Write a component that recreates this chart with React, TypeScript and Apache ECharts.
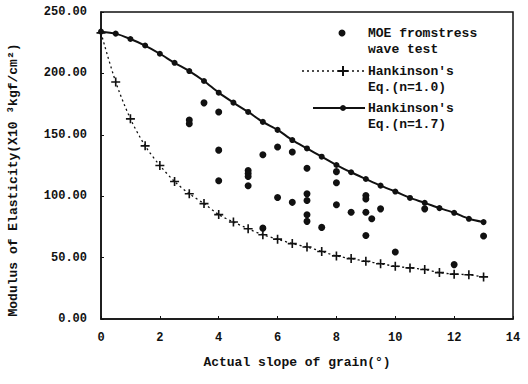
import React, { useEffect, useRef } from "react";
import * as echarts from "echarts";

const FONT = "'Liberation Mono', 'DejaVu Sans Mono', monospace";
const INK = "#111111";

// slope of grain (degrees) for the Hankinson curves
const hankX = [0, 0.5, 1, 1.5, 2, 2.5, 3, 3.5, 4, 4.5, 5, 5.5, 6, 6.5, 7, 7.5, 8, 8.5, 9, 9.5, 10, 10.5, 11, 11.5, 12, 12.5, 13];
// Hankinson's Eq. (n=1.0)
const hankN10 = [233, 193, 163, 141, 125, 112, 102, 94, 85, 79, 73.5, 68.6, 65, 61.4, 58.6, 55, 51.4, 49.2, 47, 45, 43, 41.6, 40.3, 37.8, 36.5, 36, 34.3];
// Hankinson's Eq. (n=1.7)
const hankN17 = [234, 232.4, 228, 222.7, 216, 208.6, 201.9, 193.8, 184.3, 176.2, 168.6, 160.5, 154, 145.7, 138.9, 132.2, 125.4, 119.5, 114, 108.6, 103.8, 98.6, 94.6, 90.3, 86.5, 81.6, 78.9];

// MOE from stress wave test
const moeX = [3, 3, 3.5, 4, 4, 4, 5, 5, 5, 5, 5.5, 5.5, 6, 6, 6.5, 6.5, 7, 7, 7, 7, 7, 7.5, 8, 8, 8, 8.5, 9, 9, 9, 9.2, 9.5, 9, 10, 11, 12, 13];
const moeY = [162, 159, 176, 168.5, 137.5, 112.6, 121, 118.5, 116, 108.5, 133.8, 74, 140, 99, 136, 95, 122.7, 101.9, 96.5, 84.9, 79.5, 74.6, 120, 111, 93, 87, 100.5, 97.8, 87, 81.6, 89.7, 68, 54.6, 89.7, 44.3, 67.6];

// axis ticks
const xMin = 0, xMax = 14, xStep = 2;
const yMin = 0, yMax = 250, yStep = 50;

const xTitle = "Actual slope of grain(°)";
const yTitle = "Modulus of Elasticity(X10 ³kgf/cm²)";

const legendLabels = [
  ["MOE fromstress", "wave test"],
  ["Hankinson's", "Eq.(n=1.0)"],
  ["Hankinson's", "Eq.(n=1.7)"],
];

const PLUS = "path://M-0.9,-5H0.9V-0.9H5V0.9H0.9V5H-0.9V0.9H-5V-0.9H-0.9Z";

export default function App() {
  const ref = useRef<HTMLDivElement>(null);
  useEffect(() => {
    const chart = echarts.init(ref.current!, null, { renderer: "svg" });
    const txt = { fontFamily: FONT, fontWeight: "bold", fontSize: 13, color: INK };
    const legendText = (x: number, y: number, s: string) => ({
      type: "text", x, y,
      style: { text: s, fill: INK, font: `bold 13px ${FONT}`, textVerticalAlign: "middle" },
    });
    const graphic: any[] = [];
    // y axis title
    graphic.push({
      type: "text", x: 13, y: 180, rotation: Math.PI / 2,
      style: { text: yTitle, fill: INK, font: `bold 13px ${FONT}`, textAlign: "center", textVerticalAlign: "middle" },
    });
    // entry 1: scatter
    graphic.push({ type: "circle", shape: { cx: 342, cy: 33, r: 3.5 }, style: { fill: INK } });
    graphic.push(legendText(368, 33, legendLabels[0][0]));
    graphic.push(legendText(368, 49, legendLabels[0][1]));
    // entry 2: dotted + plus
    graphic.push({ type: "line", shape: { x1: 302, y1: 71, x2: 365, y2: 71 }, style: { stroke: INK, lineWidth: 1.3, lineDash: [2, 3] } });
    graphic.push({ type: "line", shape: { x1: 338, y1: 71, x2: 348, y2: 71 }, style: { stroke: INK, lineWidth: 2 } });
    graphic.push({ type: "line", shape: { x1: 343, y1: 66, x2: 343, y2: 76 }, style: { stroke: INK, lineWidth: 2 } });
    graphic.push(legendText(368, 71, legendLabels[1][0]));
    graphic.push(legendText(368, 87, legendLabels[1][1]));
    // entry 3: solid + dot
    graphic.push({ type: "line", shape: { x1: 313, y1: 108, x2: 365, y2: 108 }, style: { stroke: INK, lineWidth: 2 } });
    graphic.push({ type: "circle", shape: { cx: 343, cy: 108, r: 3 }, style: { fill: INK } });
    graphic.push(legendText(368, 108, legendLabels[2][0]));
    graphic.push(legendText(368, 124, legendLabels[2][1]));

    chart.setOption({
      animation: false,
      backgroundColor: "#fff",
      grid: { left: 101, right: 15, top: 12, bottom: 65, show: true, borderColor: INK, borderWidth: 1.5, backgroundColor: "transparent" },
      xAxis: {
        type: "value", min: xMin, max: xMax, interval: xStep,
        axisLine: { show: true, lineStyle: { color: INK, width: 1.5 } },
        axisTick: { show: true, inside: true, length: 3, lineStyle: { color: INK } },
        splitLine: { show: false },
        axisLabel: { ...txt, fontSize: 12, margin: 13 },
        name: xTitle,
        nameLocation: "middle",
        nameGap: 37,
        nameTextStyle: { ...txt, padding: [0, 20, 0, 0] },
      },
      yAxis: {
        type: "value", min: yMin, max: yMax, interval: yStep,
        axisLine: { show: true, lineStyle: { color: INK, width: 1.5 } },
        axisTick: { show: true, inside: true, length: 3, lineStyle: { color: INK } },
        splitLine: { show: false },
        axisLabel: { ...txt, fontSize: 12, margin: 14, formatter: (v: number) => v.toFixed(2) },
      },
      graphic,
      series: [
        {
          name: "Hankinson's Eq.(n=1.0)",
          type: "line",
          data: hankX.map((x, i) => [x, hankN10[i]]),
          smooth: 0.3,
          symbol: PLUS,
          symbolSize: 9,
          itemStyle: { color: INK },
          lineStyle: { color: INK, width: 1.3, type: [2, 3] },
          z: 2,
        },
        {
          name: "Hankinson's Eq.(n=1.7)",
          type: "line",
          data: hankX.map((x, i) => [x, hankN17[i]]),
          smooth: 0.3,
          symbol: "circle",
          symbolSize: 6,
          itemStyle: { color: INK },
          lineStyle: { color: INK, width: 2 },
          z: 3,
        },
        {
          name: "MOE from stress wave test",
          type: "scatter",
          data: moeX.map((x, i) => [x, moeY[i]]),
          symbol: "circle",
          symbolSize: 7,
          itemStyle: { color: INK, opacity: 1 },
          z: 4,
        },
      ],
    });
    return () => chart.dispose();
  }, []);
  return <div ref={ref} style={{ position: "fixed", left: 0, top: 0, width: 528, height: 384, background: "#fff" }} />;
}
